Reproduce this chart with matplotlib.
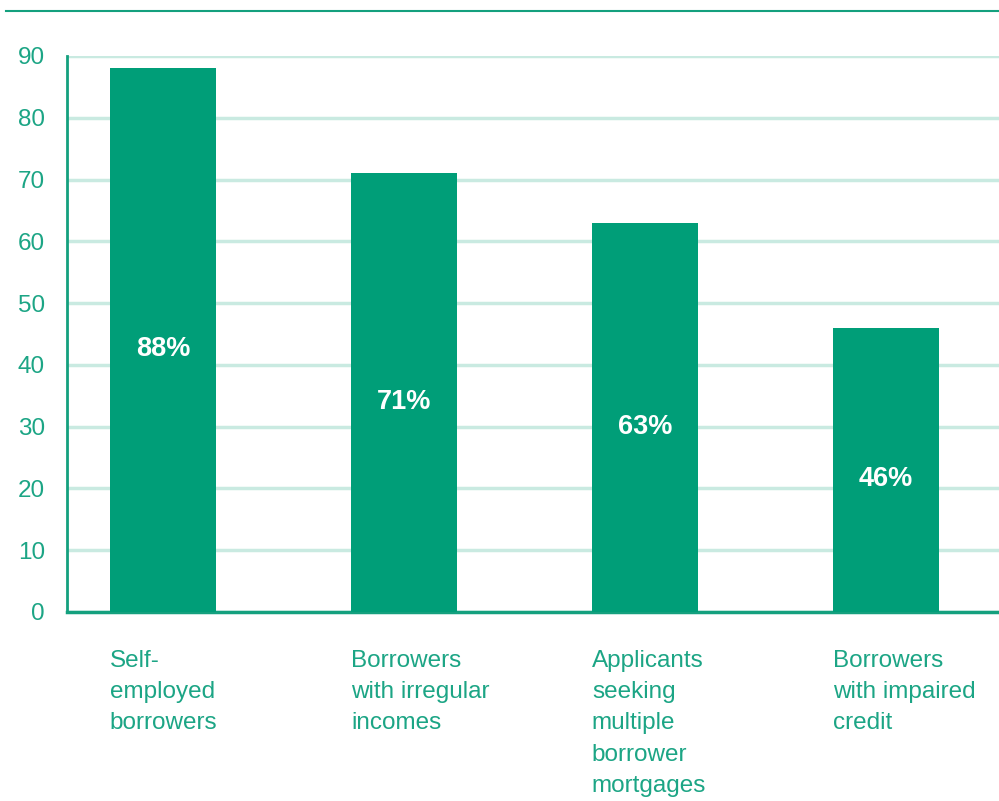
import matplotlib
matplotlib.use("Agg")
import matplotlib.pyplot as plt
from matplotlib.lines import Line2D

categories = ["Self-\nemployed\nborrowers",
              "Borrowers\nwith irregular\nincomes",
              "Applicants\nseeking\nmultiple\nborrower\nmortgages",
              "Borrowers\nwith impaired\ncredit"]
values = [88, 71, 63, 46]
yticks = [0, 10, 20, 30, 40, 50, 60, 70, 80, 90]

BAR = "#009E78"
TEXT = "#1CA585"
GRID = "#C9EAE1"
LINE = "#14A07E"

plt.rcParams["font.family"] = ["Liberation Sans", "DejaVu Sans"]

W, H = 999, 801
fig = plt.figure(figsize=(W / 100, H / 100), dpi=100)
ax = fig.add_axes([67 / W, (H - 612) / H, (W - 67) / W, (612 - 56) / H])

x = list(range(len(values)))
ax.bar(x, values, width=0.44, color=BAR, zorder=3)
ax.set_xlim(-0.398, 3.469)
ax.set_ylim(0, 90)
ax.set_yticks(yticks)
ax.set_yticklabels([str(t) for t in yticks], color=TEXT, fontsize=17.5)
ax.tick_params(axis="y", length=0, pad=16)
ax.set_xticks([])
ax.yaxis.grid(True, color=GRID, linewidth=2.5, zorder=0)
ax.set_axisbelow(True)

for s in ("top", "right"):
    ax.spines[s].set_visible(False)
ax.spines["left"].set_color(LINE)
ax.spines["left"].set_linewidth(2)
ax.spines["bottom"].set_color(LINE)
ax.spines["bottom"].set_linewidth(2.5)

for xi, v in zip(x, values):
    ax.text(xi, v / 2 - 1.5, f"{v}%", ha="center", va="center",
            color="white", fontsize=19.5, fontweight="bold", zorder=4)
    ax.text(xi - 0.22, -6.1, categories[xi],
            ha="left", va="top", color=TEXT, fontsize=17.5,
            linespacing=1.55, clip_on=False)

fig.add_artist(Line2D([6 / W, 1.0], [1 - 11 / H, 1 - 11 / H],
                      transform=fig.transFigure, color=LINE, linewidth=1.5))

fig.savefig("out.png", dpi=100)
